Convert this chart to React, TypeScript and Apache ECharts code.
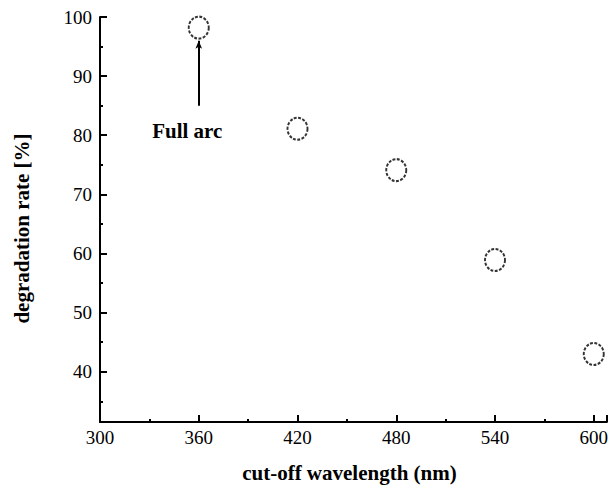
import React, { useEffect, useRef } from "react";
import * as echarts from "echarts";

const wavelengths = [360, 420, 480, 540, 600];
const rates = [98.2, 81.1, 74.1, 58.9, 43.0];
const xTicks = [300, 360, 420, 480, 540, 600];
const yMajorTicks = [40, 50, 60, 70, 80, 90, 100];
const yMinorTicks = [35, 45, 55, 65, 75, 85, 95];
const annotationText = "Full arc";
const arrowFrom = [360, 85];
const arrowTo = [360, 96];
const labelAt = [353, 80.8];

const FONT = "'Liberation Serif', 'Times New Roman', serif";
const Y_MIN = 31.5;
const Y_MAX = 100;

export default function App() {
  const ref = useRef<HTMLDivElement>(null);
  useEffect(() => {
    if (!ref.current) return;
    const chart = echarts.init(ref.current, undefined, { renderer: "svg" });
    chart.setOption({
      animation: false,
      backgroundColor: "#fff",
      grid: { left: 100, right: 3, top: 17, bottom: 61 },
      xAxis: {
        type: "value",
        min: 300,
        max: 608,
        interval: 60,
        name: "cut-off wavelength (nm)",
        nameLocation: "middle",
        nameGap: 40,
        nameTextStyle: {
          fontFamily: FONT,
          fontWeight: "bold",
          fontSize: 21,
          color: "#000",
          padding: [0, 8, 0, 0],
        },
        axisLine: { show: true, lineStyle: { color: "#000", width: 2 } },
        axisTick: { show: true, inside: true, length: 7, lineStyle: { color: "#000", width: 2 } },
        minorTick: { show: true, splitNumber: 2, length: 3, lineStyle: { color: "#000", width: 2 } },
        splitLine: { show: false },
        axisLabel: {
          fontFamily: FONT,
          fontSize: 19,
          color: "#000",
          margin: 6,
          formatter: (v: number) => (xTicks.includes(v) ? String(v) : ""),
        },
      },
      yAxis: [
        {
          type: "value",
          min: Y_MIN,
          max: Y_MAX,
          name: "degradation rate [%]",
          nameLocation: "middle",
          nameGap: 68,
          nameTextStyle: {
            fontFamily: FONT,
            fontWeight: "bold",
            fontSize: 21,
            color: "#000",
            padding: [0, 18, 0, 0],
          },
          axisLine: { show: true, lineStyle: { color: "#000", width: 2 } },
          axisTick: {
            show: true,
            inside: true,
            length: 7,
            customValues: yMajorTicks,
            lineStyle: { color: "#000", width: 2 },
          },
          axisLabel: {
            show: true,
            customValues: yMajorTicks,
            fontFamily: FONT,
            fontSize: 19,
            color: "#000",
            margin: 8,
          },
          splitLine: { show: false },
        },
        {
          type: "value",
          position: "left",
          min: Y_MIN,
          max: Y_MAX,
          axisLine: { show: false },
          axisTick: {
            show: true,
            inside: true,
            length: 3,
            customValues: yMinorTicks,
            lineStyle: { color: "#000", width: 2 },
          },
          axisLabel: { show: false },
          splitLine: { show: false },
        },
      ],
      series: [
        {
          type: "scatter",
          data: wavelengths.map((w, i) => [w, rates[i]]),
          symbol: "circle",
          symbolSize: [20, 22],
          itemStyle: {
            color: "#fff",
            borderColor: "#000",
            borderWidth: 2,
            borderType: [3, 1.5],
          },
          markLine: {
            silent: true,
            symbol: ["none", "arrow"],
            symbolSize: [5, 8],
            lineStyle: { color: "#000", width: 2, type: "solid" },
            label: { show: false },
            data: [[{ coord: arrowFrom }, { coord: arrowTo }]],
          },
          markPoint: {
            silent: true,
            symbol: "circle",
            symbolSize: 0,
            label: {
              show: true,
              position: "inside",
              formatter: annotationText,
              fontFamily: FONT,
              fontWeight: "bold",
              fontSize: 21,
              color: "#000",
            },
            data: [{ coord: labelAt }],
          },
        },
      ],
    } as any);
    return () => chart.dispose();
  }, []);
  return (
    <div
      ref={ref}
      style={{ position: "fixed", left: 0, top: 0, width: 611, height: 488 }}
    />
  );
}
